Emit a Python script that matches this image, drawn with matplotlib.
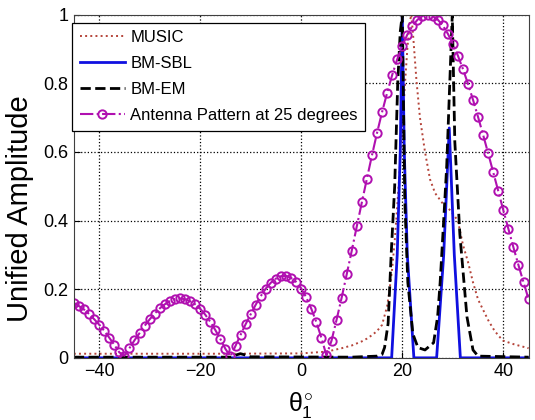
import matplotlib
matplotlib.use('Agg')
import matplotlib.pyplot as plt

plt.rcParams['font.family'] = ['Liberation Sans', 'DejaVu Sans']
plt.rcParams['mathtext.fontset'] = 'custom'
plt.rcParams['mathtext.rm'] = 'Liberation Sans'
plt.rcParams['mathtext.it'] = 'Liberation Sans'

# Antenna pattern at 25 degrees, one marker per degree
pattern_theta = list(range(-45, 46))
pattern_amp = [
    0.160, 0.151, 0.141, 0.128, 0.113, 0.097, 0.079, 0.059, 0.038, 0.016,
    0.006, 0.028, 0.051, 0.072, 0.093, 0.112, 0.129, 0.144, 0.156, 0.165,
    0.171, 0.173, 0.171, 0.165, 0.156, 0.143, 0.126, 0.105, 0.081, 0.055,
    0.026, 0.004, 0.035, 0.067, 0.098, 0.127, 0.155, 0.180, 0.202, 0.219,
    0.231, 0.238, 0.239, 0.233, 0.221, 0.202, 0.176, 0.143, 0.104, 0.058,
    0.007, 0.050, 0.111, 0.175, 0.243, 0.312, 0.383, 0.453, 0.522, 0.590,
    0.655, 0.716, 0.772, 0.824, 0.870, 0.909, 0.942, 0.967, 0.985, 0.996,
    1.000, 0.996, 0.986, 0.969, 0.945, 0.916, 0.881, 0.842, 0.799, 0.752,
    0.702, 0.650, 0.596, 0.541, 0.486, 0.430, 0.376, 0.322, 0.270, 0.220,
    0.171,
]

# MUSIC spectrum
music_theta = [-45, -30, -15, 0, 5, 8, 10, 12, 13, 14, 15, 16, 17, 17.5, 18,
               18.5, 19, 19.5, 20, 20.5, 21, 21.5, 21.8, 22.2, 22.8, 23.5,
               24.5, 25.5, 26.5, 28, 29.5, 31, 32, 33, 34, 35, 36, 37, 38,
               39, 40, 41, 42, 43, 44, 45]
music_amp = [0.012, 0.012, 0.012, 0.013, 0.018, 0.028, 0.036, 0.048, 0.056,
             0.066, 0.078, 0.096, 0.15, 0.2, 0.26, 0.34, 0.44, 0.55, 0.67,
             0.79, 0.9, 0.98, 1.0, 0.93, 0.81, 0.70, 0.60, 0.52, 0.48, 0.45,
             0.43, 0.40, 0.33, 0.28, 0.22, 0.17, 0.14, 0.11, 0.085, 0.065,
             0.05, 0.045, 0.04, 0.036, 0.032, 0.028]

# BM-SBL spectrum
sbl_theta = [-45, 17.9, 19.0, 19.6, 20.0, 20.4, 21.0, 22.3, 26.8, 28.2, 29.3,
             30.3, 31.5, 45]
sbl_amp = [0, 0, 0.3, 0.6, 1.0, 0.6, 0.3, 0, 0, 0.3, 0.67, 0.3, 0, 0]

# BM-EM spectrum
em_theta = [-45, -14, -13, -12, -11, -10, 10, 15, 16, 16.5, 17.2, 17.8, 18.5,
            19.1, 19.6, 20.0, 20.5, 21.1, 22.1, 23.1, 24.5, 26.2, 27.0, 27.5,
            28.2, 28.8, 29.4, 29.9, 30.4, 31.4, 32.8, 34.0, 35.0, 45]
em_amp = [0.002, 0.002, 0.008, 0.012, 0.008, 0.003, 0.002, 0.005, 0.01, 0.03,
          0.1, 0.3, 0.5, 0.8, 0.95, 1.0, 0.46, 0.22, 0.07, 0.03, 0.023, 0.044,
          0.12, 0.22, 0.4, 0.56, 0.8, 1.0, 0.63, 0.36, 0.12, 0.023, 0.005,
          0.002]

x_ticks = [-40, -20, 0, 20, 40]
y_ticks = [0, 0.2, 0.4, 0.6, 0.8, 1]
y_tick_labels = ['0', '0.2', '0.4', '0.6', '0.8', '1']

fig = plt.figure(figsize=(5.35, 4.2), dpi=100)
ax = fig.add_axes([0.138, 0.148, 0.850, 0.817])

ax.plot(music_theta, music_amp, ':', color='#b5443a', lw=1.4, label='MUSIC')
ax.plot(sbl_theta, sbl_amp, '-', color='#1010e0', lw=2, label='BM-SBL')
ax.plot(em_theta, em_amp, '--', color='black', lw=2, label='BM-EM')
ax.plot(pattern_theta, pattern_amp, '-.', color='#b010b0', lw=1.5,
        marker='o', ms=6, mfc='none', mew=1.4,
        label='Antenna Pattern at 25 degrees')

ax.set_xlim(-45, 45)
ax.set_ylim(0, 1)
ax.set_xticks(x_ticks)
ax.set_yticks(y_ticks)
ax.set_yticklabels(y_tick_labels)
ax.tick_params(direction='in', length=4, labelsize=13, pad=4)
ax.grid(True, linestyle=':', color='black', lw=0.9)
for s in ax.spines.values():
    s.set_color('#404040')

ax.set_ylabel('Unified Amplitude', fontsize=21)
ax.yaxis.set_label_coords(-0.088, 0.434)
ax.set_xlabel(r'$\theta_1^{\circ}$', fontsize=18, labelpad=7)

leg = ax.legend(loc='upper left', bbox_to_anchor=(-0.004, 0.977),
                borderaxespad=0, fontsize=12, handlelength=2.7,
                handletextpad=0.35, labelspacing=0.66, borderpad=0.45,
                fancybox=False, framealpha=1)
leg.get_frame().set_edgecolor('black')
leg.get_frame().set_linewidth(0.9)

fig.savefig('out.png', dpi=100)
